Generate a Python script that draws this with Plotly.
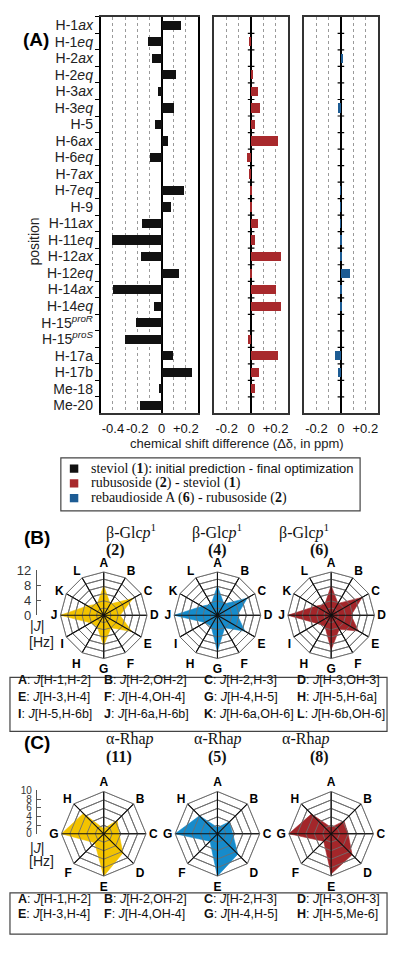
import plotly.graph_objects as go

W, H = 400, 953
def fx(p): return p / W
def fy(p): return 1 - p / H

SANS = "Liberation Sans"
SERIF = "Liberation Serif"

# ---------------- Panel A data ----------------
positions = ["H-1<i>ax</i>", "H-1<i>eq</i>", "H-2<i>ax</i>", "H-2<i>eq</i>", "H-3<i>ax</i>", "H-3<i>eq</i>",
             "H-5", "H-6<i>ax</i>", "H-6<i>eq</i>", "H-7<i>ax</i>", "H-7<i>eq</i>", "H-9",
             "H-11<i>ax</i>", "H-11<i>eq</i>", "H-12<i>ax</i>", "H-12<i>eq</i>", "H-14<i>ax</i>", "H-14<i>eq</i>",
             "H-15<sup><i>proR</i></sup>", "H-15<sup><i>proS</i></sup>", "H-17a", "H-17b", "Me-18", "Me-20"]
steviol_pred_vs_opt = [0.16, -0.115, -0.077, 0.115, -0.03, 0.10, -0.058, 0.047, -0.10, 0.0, 0.18, 0.077,
                       -0.16, -0.41, -0.17, 0.14, -0.40, -0.063, -0.21, -0.30, 0.093, 0.25, -0.027, -0.18]
rubusoside_minus_steviol = [0.0, -0.01, 0.0, 0.02, 0.057, 0.075, 0.035, 0.225, -0.03, -0.016, 0.01, 0.003,
                            0.057, 0.035, 0.245, 0.008, 0.205, 0.25, 0.0, -0.025, 0.22, 0.068, 0.035, 0.0]
rebA_minus_rubusoside = [0.0, 0.0, 0.02, 0.0, 0.0, -0.025, 0.0, 0.0, 0.0, 0.0, -0.005, -0.005,
                         -0.005, 0.003, 0.012, 0.08, 0.013, 0.004, 0.0, 0.0, -0.05, -0.02, 0.0, 0.0]

left_ticks = [-0.4, -0.3, -0.2, -0.1, 0, 0.1, 0.2]
left_ticktext = ["-0.4", " ", "-0.2", " ", "0", " ", "+0.2"]
side_ticks = [-0.2, -0.1, 0, 0.1, 0.2]
side_ticktext = ["-0.2", " ", "0", " ", "+0.2"]

legend_labels = ["steviol (<b>1</b>): <span style=\"font-family:Liberation Sans;font-size:13px\">initial prediction - final optimization</span>",
                 "rubusoside (<b>2</b>) - steviol (<b>1</b>)",
                 "rebaudioside A (<b>6</b>) - rubusoside (<b>2</b>)"]

# ---------------- Panel B data (|J| in Hz) ----------------
glc_axes = list("ABCDEFGHIJKL")
glc_2 = [8.2, 3.6, 9.4, 4.5, 9.0, 4.0, 8.4, 3.6, 4.2, 12.0, 5.2, 3.6]
glc_4 = [8.1, 3.6, 9.5, 5.5, 8.8, 4.0, 10.0, 3.5, 4.0, 12.0, 5.0, 3.5]
glc_6 = [8.2, 3.8, 9.9, 5.5, 8.7, 4.5, 9.5, 3.5, 4.5, 12.0, 5.0, 3.5]
glc_desc = ["[H-1,H-2]", "[H-2,OH-2]", "[H-2,H-3]", "[H-3,OH-3]", "[H-3,H-4]", "[H-4,OH-4]",
            "[H-4,H-5]", "[H-5,H-6a]", "[H-5,H-6b]", "[H-6a,H-6b]", "[H-6a,OH-6]", "[H-6b,OH-6]"]

# ---------------- Panel C data (|J| in Hz) ----------------
rha_axes = list("ABCDEFGH")
rha_11 = [1.2, 4.5, 3.6, 6.4, 10.0, 3.0, 10.0, 6.8]
rha_5 = [1.5, 4.0, 3.6, 6.8, 10.0, 2.5, 10.0, 6.0]
rha_8 = [1.5, 4.3, 4.0, 7.0, 9.5, 2.5, 10.0, 6.6]
rha_desc = ["[H-1,H-2]", "[H-2,OH-2]", "[H-2,H-3]", "[H-3,OH-3]", "[H-3,H-4]", "[H-4,OH-4]",
            "[H-4,H-5]", "[H-5,Me-6]"]

BLACK = "#111111"
RED = "#A8292C"
BLUE = "#1D5C94"
YELLOW = "#F3C300"
SKY = "#168BCB"
MAROON = "#A3262A"

fig = go.Figure()

# ---------------- Panel A ----------------
bar_colors = [BLACK, RED, BLUE]
for k, (vals, ax) in enumerate([(steviol_pred_vs_opt, ""), (rubusoside_minus_steviol, "2"),
                                (rebA_minus_rubusoside, "3")]):
    fig.add_trace(go.Bar(x=vals, y=positions, orientation="h", width=0.56,
                         marker=dict(color=bar_colors[k], line=dict(width=0)), xaxis="x" + ax, yaxis="y" + ax,
                         name=legend_labels[k], showlegend=False))

ydom = [fy(413), fy(10)]
common_x = dict(showline=True, mirror=True, linecolor="#333", linewidth=1.5, showgrid=True,
                gridcolor="#9a9a9a", griddash="dot", gridwidth=1, zeroline=True, zerolinecolor="black",
                zerolinewidth=1.5, ticks="", tickangle=0, tickfont=dict(family=SANS, size=13, color="#111"),
                ticklabelstandoff=2, fixedrange=True)
common_y = dict(domain=ydom, type="category", categoryorder="array", categoryarray=positions,
                autorange="reversed", showgrid=False, fixedrange=True, tickmode="array", tickvals=positions,
                ticktext=positions)
layout = dict(
    xaxis=dict(domain=[fx(101), fx(198.5)], range=[-0.5, 0.3], anchor="y", tickmode="array",
               tickvals=left_ticks, ticktext=left_ticktext, **common_x),
    xaxis2=dict(domain=[fx(215), fx(288.5)], range=[-0.3, 0.3], anchor="y2", tickmode="array",
                tickvals=side_ticks, ticktext=side_ticktext, **common_x),
    xaxis3=dict(domain=[fx(305), fx(378.5)], range=[-0.3, 0.3], anchor="y3", tickmode="array",
                tickvals=side_ticks, ticktext=side_ticktext, **common_x),
    yaxis=dict(anchor="x", ticks="outside", tickson="boundaries", ticklen=4, tickcolor="black",
               tickwidth=1.2, showline=True, linecolor="black", linewidth=2, mirror=True,
               tickfont=dict(family=SANS, size=14, color="#222"), ticklabelstandoff=3, **common_y),
    yaxis2=dict(anchor="x2", showticklabels=False, ticks="", showline=True, linecolor="#333",
                linewidth=1.5, mirror=True, **common_y),
    yaxis3=dict(anchor="x3", showticklabels=False, ticks="", showline=True, linecolor="#333",
                linewidth=1.5, mirror=True, **common_y),
)

shapes = []
# crossing ticks on the zero lines of the middle and right panels (at category boundaries)
for xr, yr in [("x2", "y2"), ("x3", "y3")]:
    for i in range(len(positions) - 1):
        shapes.append(dict(type="line", xref=xr, yref=yr, x0=-0.027, x1=0.027, y0=i + 0.5, y1=i + 0.5,
                           line=dict(color="black", width=1.2)))

annotations = [
    dict(text="<b>(A)</b>", x=fx(21), y=fy(20), xref="paper", yref="paper", showarrow=False,
         font=dict(family=SANS, size=19, color="black")),
    dict(text="position", x=fx(24), y=fy(212), xref="paper", yref="paper", showarrow=False, textangle=-90,
         font=dict(family=SANS, size=14, color="#222")),
    dict(text="chemical shift difference (Δδ, in ppm)", x=fx(238), y=fy(443), xref="paper", yref="paper",
         showarrow=False, font=dict(family=SANS, size=13, color="#222")),
]

# manual legend box for panel A
shapes.append(dict(type="rect", xref="paper", yref="paper", x0=fx(61), x1=fx(361), y0=fy(512), y1=fy(458),
                   line=dict(color="#444", width=1.2), fillcolor="white"))
legend_rows = [469, 484, 499]
for k in range(3):
    shapes.append(dict(type="rect", xref="paper", yref="paper", x0=fx(70), x1=fx(78.5),
                       y0=fy(legend_rows[k] + 4.2), y1=fy(legend_rows[k] - 4.2),
                       line=dict(width=0), fillcolor=bar_colors[k]))
    annotations.append(dict(text=legend_labels[k], x=fx(89), y=fy(legend_rows[k]), xref="paper", yref="paper",
                            xanchor="left", showarrow=False, font=dict(family=SERIF, size=14, color="#111")))

# ---------------- Radar helpers ----------------
def add_radar(idx, cats, vals, color, rmax):
    sub = "polar" if idx == 1 else f"polar{idx}"
    theta = cats + [cats[0]]
    fig.add_trace(go.Scatterpolar(r=vals + [vals[0]], theta=theta, mode="lines", fill="toself",
                                  fillcolor=color, line=dict(color=color, width=0.6), subplot=sub,
                                  showlegend=False, hoverinfo="skip"))
    # grid redrawn on top of the filled area
    rr, tt = [], []
    for lvl in range(2, rmax + 1, 2):
        rr += [lvl] * len(theta) + [None]
        tt += theta + [None]
    fig.add_trace(go.Scatterpolar(r=rr, theta=tt, mode="lines", line=dict(color="#6e6e6e", width=0.9),
                                  subplot=sub, showlegend=False, hoverinfo="skip", connectgaps=False))
    sr, st = [], []
    for c in cats:
        sr += [0, rmax, None]
        st += [c, c, None]
    fig.add_trace(go.Scatterpolar(r=sr, theta=st, mode="lines", line=dict(color="#111", width=1.1),
                                  subplot=sub, showlegend=False, hoverinfo="skip", connectgaps=False))
    fig.add_trace(go.Scatterpolar(r=[0], theta=[cats[0]], mode="markers", marker=dict(color="black", size=6),
                                  subplot=sub, showlegend=False, hoverinfo="skip"))


def polar_layout(cx, cy, R, cats, rmax):
    return dict(
        domain=dict(x=[fx(cx - R), fx(cx + R)], y=[fy(cy + R), fy(cy - R)]),
        gridshape="linear", bgcolor="white",
        angularaxis=dict(type="category", categoryorder="array", categoryarray=cats, direction="clockwise",
                         rotation=90, showline=True, linecolor="#6e6e6e", linewidth=1, gridcolor="#111",
                         gridwidth=1, ticks="", tickfont=dict(family=SANS, size=12, color="black", weight="bold")),
        radialaxis=dict(range=[0, rmax], dtick=2, showticklabels=False, ticks="", showline=False,
                        gridcolor="#6e6e6e", gridwidth=0.9),
    )

centers_x = [104, 218, 332]
cyB, RB = 618, 44
cyC, RC = 840, 43

for k, (vals, col) in enumerate([(glc_2, YELLOW), (glc_4, SKY), (glc_6, MAROON)]):
    add_radar(k + 1, glc_axes, vals, col, 12)
    layout["polar" if k == 0 else f"polar{k + 1}"] = polar_layout(centers_x[k], cyB, RB, glc_axes, 12)
for k, (vals, col) in enumerate([(rha_11, YELLOW), (rha_5, SKY), (rha_8, MAROON)]):
    add_radar(k + 4, rha_axes, vals, col, 10)
    layout[f"polar{k + 4}"] = polar_layout(centers_x[k], cyC, RC, rha_axes, 10)

# radar scale axes (|J| in Hz)
fig.add_trace(go.Scatter(x=[0], y=[0], xaxis="x4", yaxis="y4", mode="markers", marker=dict(opacity=0),
                         showlegend=False, hoverinfo="skip"))
fig.add_trace(go.Scatter(x=[0], y=[0], xaxis="x5", yaxis="y5", mode="markers", marker=dict(opacity=0),
                         showlegend=False, hoverinfo="skip"))
scale_common = dict(anchor="free", position=fx(36), side="left", showline=True, linecolor="#555",
                    linewidth=1, ticks="inside", ticklen=4, tickcolor="#555", showgrid=False, zeroline=False,
                    ticklabelstandoff=2, fixedrange=True)
layout["xaxis4"] = dict(domain=[0.0, 0.01], visible=False, anchor="y4", fixedrange=True)
layout["xaxis5"] = dict(domain=[0.0, 0.01], visible=False, anchor="y5", fixedrange=True)
layout["yaxis4"] = dict(domain=[fy(cyB), fy(cyB - 46)], range=[0, 12], tickvals=[0, 4, 8, 12],
                        tickfont=dict(family=SANS, size=13, color="#333"), **scale_common)
layout["yaxis5"] = dict(domain=[fy(cyC), fy(cyC - 44)], range=[0, 10], tickvals=[0, 2, 4, 6, 8, 10],
                        tickfont=dict(family=SANS, size=10, color="#333"), **scale_common)

# titles for radar panels
glc_titles = ["<b>(2)</b>", "<b>(4)</b>", "<b>(6)</b>"]
rha_titles = ["<b>(11)</b>", "<b>(5)</b>", "<b>(8)</b>"]
for k in range(3):
    annotations.append(dict(text="β-Glc<i>p</i><sup>1</sup>", x=fx(centers_x[k]), y=fy(533), xref="paper",
                            yref="paper", showarrow=False, font=dict(family=SERIF, size=16, color="#111")))
    annotations.append(dict(text=glc_titles[k], x=fx(centers_x[k]), y=fy(552), xref="paper", yref="paper",
                            showarrow=False, font=dict(family=SERIF, size=16, color="#111")))
    annotations.append(dict(text="α-Rha<i>p</i>", x=fx(centers_x[k]), y=fy(755), xref="paper", yref="paper",
                            showarrow=False, font=dict(family=SERIF, size=16, color="#111")))
    annotations.append(dict(text=rha_titles[k], x=fx(centers_x[k]), y=fy(773), xref="paper", yref="paper",
                            showarrow=False, font=dict(family=SERIF, size=16, color="#111")))

annotations += [
    dict(text="<b>(B)</b>", x=fx(22), y=fy(539), xref="paper", yref="paper", showarrow=False,
         font=dict(family=SANS, size=19, color="black")),
    dict(text="<b>(C)</b>", x=fx(22), y=fy(760), xref="paper", yref="paper", showarrow=False,
         font=dict(family=SANS, size=19, color="black")),
    dict(text="|<i>J</i>|", x=fx(28), y=fy(639), xref="paper", yref="paper", showarrow=False,
         font=dict(family=SANS, size=14, color="#222")),
    dict(text="[Hz]", x=fx(27), y=fy(655), xref="paper", yref="paper", showarrow=False,
         font=dict(family=SANS, size=14, color="#222")),
    dict(text="|<i>J</i>|", x=fx(28), y=fy(865), xref="paper", yref="paper", showarrow=False,
         font=dict(family=SANS, size=14, color="#222")),
    dict(text="[Hz]", x=fx(27), y=fy(878), xref="paper", yref="paper", showarrow=False,
         font=dict(family=SANS, size=14, color="#222")),
]

# key boxes
col_x = [16, 102, 203, 296]
def key_box(keys, descs, y_top, y_bot, rows_y):
    shapes.append(dict(type="rect", xref="paper", yref="paper", x0=fx(10), x1=fx(388), y0=fy(y_bot), y1=fy(y_top),
                       line=dict(color="#444", width=1.2), fillcolor="rgba(0,0,0,0)"))
    for i, (k, d) in enumerate(zip(keys, descs)):
        r, c = divmod(i, 4)
        annotations.append(dict(text=f"<b>{k}</b>: <i>J</i>{d}", x=fx(col_x[c]), y=fy(rows_y[r]), xref="paper",
                                yref="paper", xanchor="left", showarrow=False,
                                font=dict(family=SANS, size=12.5, color="#111")))

key_box(glc_axes, glc_desc, 681, 736, [693, 710, 727])
key_box(rha_axes, rha_desc, 900, 942, [915, 931])

fig.update_layout(
    width=W, height=H, margin=dict(l=0, r=0, t=0, b=0), paper_bgcolor="white", plot_bgcolor="white",
    font=dict(family=SANS, color="#111"),
    barmode="overlay", bargap=0, showlegend=False,
    shapes=shapes, annotations=annotations, **layout,
)

fig.write_html("out.html", config={"displayModeBar": False},
               post_script="document.body.style.margin='0px';document.body.style.overflow='hidden';")
